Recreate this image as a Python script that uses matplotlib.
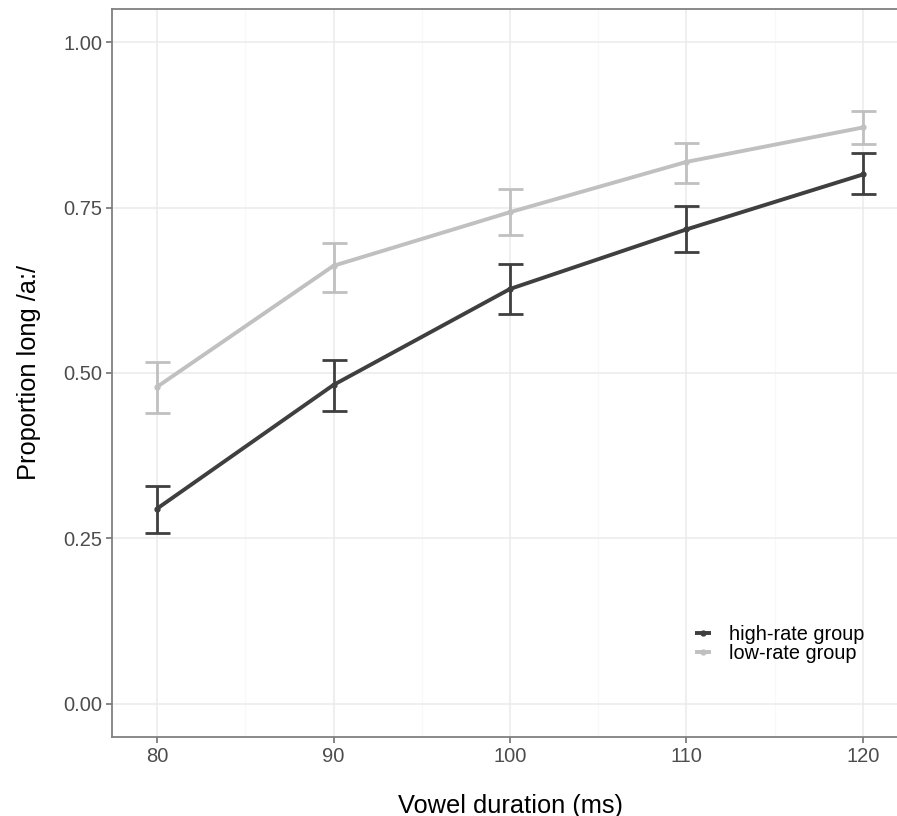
import matplotlib.pyplot as plt
from matplotlib.ticker import MultipleLocator

plt.rcParams['font.family'] = ['Liberation Sans', 'DejaVu Sans']

# vowel duration steps (ms)
durations = [80, 90, 100, 110, 120]

# proportion of long /a:/ responses, with error bar limits
high_mean = [0.295, 0.482, 0.627, 0.717, 0.800]
high_lo = [0.258, 0.443, 0.589, 0.683, 0.770]
high_hi = [0.329, 0.520, 0.665, 0.752, 0.832]

low_mean = [0.479, 0.662, 0.743, 0.819, 0.871]
low_lo = [0.440, 0.622, 0.708, 0.787, 0.846]
low_hi = [0.517, 0.696, 0.778, 0.847, 0.896]

yticks = [0.00, 0.25, 0.50, 0.75, 1.00]

fig = plt.figure(figsize=(8.97, 8.16), dpi=100)
W, H = 897, 816
ax = fig.add_axes([112 / W, (H - 737) / H, (908 - 112) / W, (737 - 9) / H])

def draw_group(mean, lo, hi, color, label):
    yerr = [[m - l for m, l in zip(mean, lo)], [h - m for m, h in zip(mean, hi)]]
    ax.errorbar(durations, mean, yerr=yerr, fmt='none', ecolor=color,
                elinewidth=2.0, capsize=9, capthick=2.0, zorder=3)
    ax.plot(durations, mean, color=color, lw=2.8, marker='o', ms=3.5,
            label=label, zorder=4, solid_capstyle='butt')

draw_group(high_mean, high_lo, high_hi, '#3f3f3f', 'high-rate group')
draw_group(low_mean, low_lo, low_hi, '#c0c0c0', 'low-rate group')

ax.set_xlim(77.45, 122.55)
ax.set_ylim(-0.05, 1.05)
ax.set_xticks(durations)
ax.set_yticks(yticks)
ax.set_yticklabels([f'{v:.2f}' for v in yticks])
ax.xaxis.set_minor_locator(MultipleLocator(5))

ax.grid(which='major', color='#ebebeb', lw=1.1, zorder=0)
ax.grid(which='minor', axis='x', color='#f8f8f8', lw=0.8, zorder=0)
ax.set_axisbelow(True)
ax.tick_params(which='minor', length=0)

for side in ['left', 'bottom', 'top']:
    ax.spines[side].set_color('#808080')
    ax.spines[side].set_linewidth(1.3)
ax.spines['right'].set_visible(False)

ax.tick_params(which='major', length=4, width=1.1, color='#666666',
               labelsize=14.5, labelcolor='#4d4d4d', pad=3)

ax.set_xlabel('Vowel duration (ms)', fontsize=18.3, color='black', labelpad=20)
ax.set_ylabel('Proportion long /a:/', fontsize=18.3, color='black', labelpad=16)

leg = ax.legend(loc='center left', bbox_to_anchor=(0.7225, 0.1275), frameon=False,
                fontsize=14.3, handlelength=0.8, handletextpad=0.9,
                labelspacing=0.0, borderaxespad=0)

fig.savefig('out.png', dpi=100)
